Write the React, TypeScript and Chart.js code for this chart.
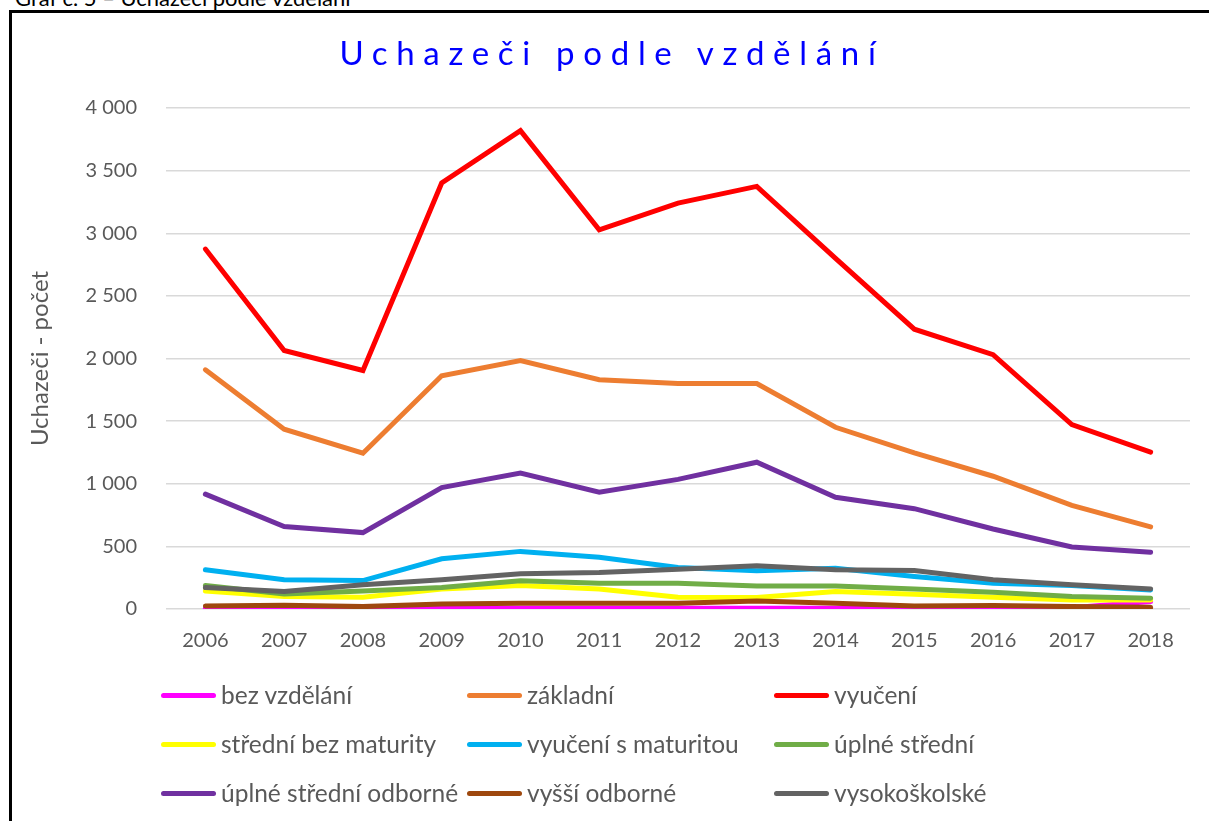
import React, { useEffect, useRef } from 'react';
import { Chart, registerables } from 'chart.js';

Chart.register(...registerables);

const years = ['2006', '2007', '2008', '2009', '2010', '2011', '2012', '2013', '2014', '2015', '2016', '2017', '2018'];

const bezVzdelani = [5, 5, 3, 5, 5, 5, 5, 5, 5, 5, 5, 10, 60];
const zakladni = [1910, 1436, 1244, 1862, 1984, 1830, 1800, 1800, 1451, 1246, 1060, 828, 655];
const vyuceni = [2874, 2064, 1904, 3401, 3819, 3028, 3241, 3374, 2800, 2234, 2030, 1473, 1252];
const stredniBezMaturity = [144, 99, 94, 160, 187, 160, 94, 91, 139, 118, 94, 72, 72];
const vyuceniSMaturitou = [313, 233, 227, 401, 460, 414, 332, 305, 326, 259, 206, 187, 152];
const uplneStredni = [187, 120, 144, 171, 225, 206, 206, 184, 184, 160, 134, 99, 86];
const uplneStredniOdborne = [917, 658, 610, 970, 1085, 933, 1035, 1172, 892, 801, 639, 495, 453];
const vyssiOdborne = [24, 29, 19, 40, 45, 45, 45, 64, 45, 24, 27, 19, 13];
const vysokoskolske = [171, 139, 193, 233, 281, 291, 318, 345, 313, 307, 233, 193, 160];

const seriesNames = [
  'bez vzdělání',
  'základní',
  'vyučení',
  'střední bez maturity',
  'vyučení s maturitou',
  'úplné střední',
  'úplné střední odborné',
  'vyšší odborné',
  'vysokoškolské',
];
const seriesColors = ['#FF00FF', '#ED7D31', '#FF0000', '#FFFF00', '#00B0F0', '#70AD47', '#7030A0', '#9E480E', '#636363'];
const seriesData = [bezVzdelani, zakladni, vyuceni, stredniBezMaturity, vyuceniSMaturitou, uplneStredni, uplneStredniOdborne, vyssiOdborne, vysokoskolske];

const yTitle = 'Uchazeči - počet';
const chartTitle = 'Uchazeči podle vzdělání';
const captionText = 'Graf č. 5 – Uchazeči podle vzdělání';

const fmt = (v: number) => String(v).replace(/\B(?=(\d{3})+(?!\d))/g, ' ');

export default function App() {
  const ref = useRef<HTMLCanvasElement>(null);

  useEffect(() => {
    Chart.defaults.font.family = 'Lato';
    const chart = new Chart(ref.current as HTMLCanvasElement, {
      type: 'line',
      data: {
        labels: years,
        datasets: seriesData.map((d, i) => ({
          label: seriesNames[i],
          data: d,
          borderColor: seriesColors[i],
          backgroundColor: seriesColors[i],
          borderWidth: 5,
          pointRadius: 0,
          pointHoverRadius: 0,
          tension: 0,
          fill: false,
          borderCapStyle: 'round' as const,
          order: -i,
        })),
      },
      options: {
        responsive: false,
        animation: false,
        layout: { padding: { top: 108, right: 19, bottom: 162, left: 20 } },
        plugins: {
          legend: { display: false },
          title: { display: false },
          tooltip: { enabled: false },
        },
        scales: {
          x: {
            offset: true,
            grid: { display: false, drawTicks: false },
            border: { display: false },
            ticks: { color: '#595959', font: { size: 20 }, padding: 20, maxRotation: 0, autoSkip: false },
            afterFit: (s: any) => {
              s.height = 50;
            },
          },
          y: {
            min: 0,
            max: 4000,
            ticks: {
              stepSize: 500,
              color: '#595959',
              font: { size: 20 },
              padding: 29,
              callback: (v: any) => fmt(Number(v)),
            },
            grid: { color: '#d9d9d9', lineWidth: 1.5, drawTicks: false },
            border: { display: false },
            title: {
              display: true,
              text: yTitle,
              color: '#595959',
              font: { size: 24 },
              padding: { top: 6, bottom: 0 },
            },
            afterFit: (s: any) => {
              s.width = 146;
            },
          },
        },
      },
    });
    return () => chart.destroy();
  }, []);

  const cols = [161, 467, 774];
  const rows = [695, 744, 793];

  return (
    <div
      style={{
        position: 'fixed',
        left: 0,
        top: 0,
        width: 1209,
        height: 821,
        overflow: 'hidden',
        background: '#fff',
        fontFamily: 'Lato, sans-serif',
      }}
    >
      <div
        style={{
          position: 'absolute',
          left: 15,
          top: -13.5,
          fontSize: 22,
          lineHeight: '22px',
          color: '#000',
          whiteSpace: 'nowrap',
        }}
      >
        {captionText}
      </div>
      <div
        style={{
          position: 'absolute',
          left: 9,
          top: 10,
          width: 1400,
          height: 1000,
          borderLeft: '3px solid #000',
          borderTop: '3px solid #000',
          background: '#fff',
        }}
      />
      <canvas
        ref={ref}
        width={1209}
        height={821}
        style={{ position: 'absolute', left: 0, top: 0, width: 1209, height: 821 }}
      />
      <div
        style={{
          position: 'absolute',
          left: 0,
          width: 1224,
          top: 36,
          textAlign: 'center',
          fontSize: 33,
          lineHeight: '33px',
          letterSpacing: '8.7px',
          color: '#0000FF',
          whiteSpace: 'pre',
        }}
      >
        {chartTitle}
      </div>
      {seriesNames.map((name, i) => (
        <div
          key={name}
          style={{
            position: 'absolute',
            left: cols[i % 3],
            top: rows[Math.floor(i / 3)] - 15,
            height: 30,
            display: 'flex',
            alignItems: 'center',
            whiteSpace: 'nowrap',
          }}
        >
          <span
            style={{
              display: 'inline-block',
              width: 55,
              height: 5,
              borderRadius: 3,
              background: seriesColors[i],
              marginRight: 5,
            }}
          />
          <span style={{ fontSize: 24.5, color: '#595959', lineHeight: '30px' }}>{name}</span>
        </div>
      ))}
    </div>
  );
}
